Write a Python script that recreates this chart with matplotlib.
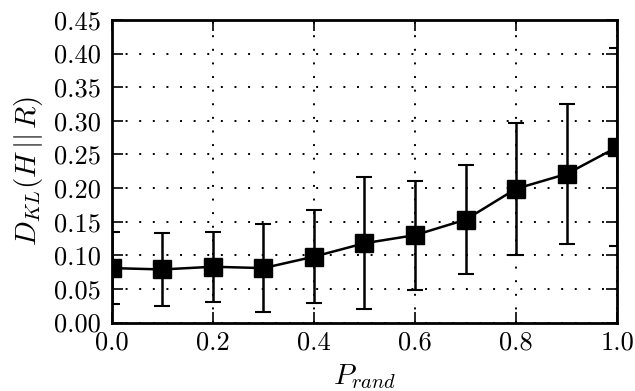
import matplotlib
matplotlib.use("Agg")
import matplotlib.pyplot as plt

p_rand = [0.0, 0.1, 0.2, 0.3, 0.4, 0.5, 0.6, 0.7, 0.8, 0.9, 1.0]
dkl = [0.081, 0.079, 0.083, 0.081, 0.098, 0.118, 0.130, 0.153, 0.199, 0.221, 0.261]
dkl_err = [0.054, 0.054, 0.052, 0.066, 0.069, 0.098, 0.081, 0.081, 0.098, 0.104, 0.147]
x_ticks = [0.0, 0.2, 0.4, 0.6, 0.8, 1.0]
y_ticks = [0.00, 0.05, 0.10, 0.15, 0.20, 0.25, 0.30, 0.35, 0.40, 0.45]

plt.rcParams['font.family'] = 'serif'
plt.rcParams['font.serif'] = ['cmr10', 'DejaVu Serif']
plt.rcParams['mathtext.fontset'] = 'cm'
plt.rcParams['axes.unicode_minus'] = False

fig = plt.figure(figsize=(6.35, 3.91), dpi=100)
ax = fig.add_axes([0.176, 0.175, 0.796, 0.774])

ax.errorbar(p_rand, dkl, yerr=dkl_err, color='black', marker='s', markersize=13,
            linewidth=1.8, elinewidth=1.8, capsize=6, capthick=1.5, zorder=3)

ax.set_xlim(0.0, 1.0)
ax.set_ylim(0.0, 0.45)
ax.set_xticks(x_ticks)
ax.set_yticks(y_ticks)
ax.set_xticklabels([f"{v:.1f}" for v in x_ticks])
ax.set_yticklabels([f"{v:.2f}" for v in y_ticks])
ax.grid(True, linestyle=(0, (1, 6)), color='black', linewidth=1.4)
ax.tick_params(direction='in', length=8, width=1.2, top=True, right=True,
               labelsize=19)
ax.tick_params(axis='y', pad=8)
ax.tick_params(axis='x', pad=6)
for s in ax.spines.values():
    s.set_linewidth(2.0)

ax.set_xlabel(r'$P_{rand}$', fontsize=21, labelpad=5)
ax.set_ylabel(r'$D_{KL}(H\,||\,R)$', fontsize=21, labelpad=6)

fig.savefig('out.png', dpi=100)
